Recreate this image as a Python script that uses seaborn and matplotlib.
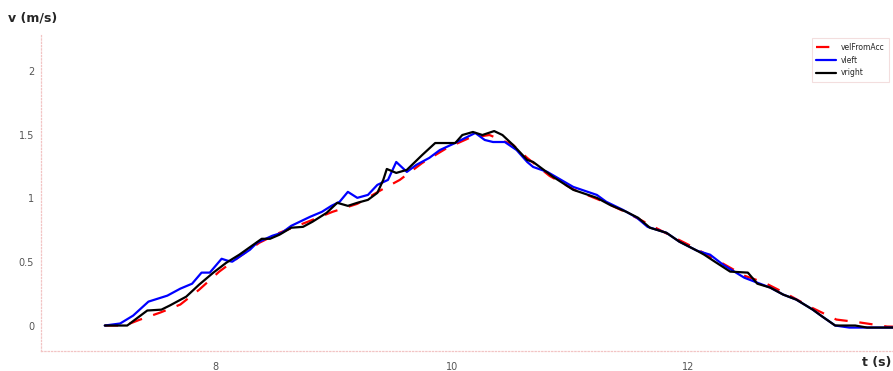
import numpy as np
import pandas as pd
import matplotlib
matplotlib.use("Agg")
import matplotlib.pyplot as plt
import seaborn as sns

# ---- data ----
t_acc = [7.06, 7.23, 7.36, 7.53, 7.70, 7.86, 8.03, 8.20, 8.37, 8.54, 8.78, 8.99, 9.20,
         9.42, 9.56, 9.75, 9.96, 10.15, 10.32, 10.52, 10.64, 10.83, 11.04, 11.25, 11.47,
         11.68, 11.89, 12.04, 12.27, 12.48, 12.65, 12.85, 13.05, 13.26, 13.46, 13.69, 13.80]
v_acc = [0.0, 0.0, 0.047, 0.102, 0.165, 0.282, 0.424, 0.541, 0.651, 0.729, 0.816, 0.894, 0.957,
         1.075, 1.145, 1.278, 1.396, 1.475, 1.498, 1.420, 1.318, 1.176, 1.067, 0.988, 0.894,
         0.792, 0.690, 0.620, 0.502, 0.392, 0.337, 0.243, 0.141, 0.047, 0.024, -0.008, -0.01]

t_left = [7.06, 7.19, 7.30, 7.43, 7.59, 7.70, 7.80, 7.88, 7.95, 8.05, 8.10, 8.14, 8.29,
          8.35, 8.48, 8.56, 8.64, 8.80, 8.90, 8.98, 9.05, 9.12, 9.20, 9.29, 9.37, 9.46,
          9.53, 9.62, 9.70, 9.81, 9.90, 10.01, 10.13, 10.20, 10.28, 10.35, 10.45, 10.55,
          10.64, 10.69, 10.81, 11.03, 11.23, 11.31, 11.45, 11.57, 11.66, 11.82, 11.93,
          12.08, 12.19, 12.30, 12.48, 12.59, 12.70, 12.81, 12.92, 13.06, 13.14, 13.25,
          13.37, 13.80]
v_left = [0.0, 0.016, 0.078, 0.188, 0.235, 0.290, 0.329, 0.416, 0.416, 0.525, 0.510, 0.502,
          0.596, 0.651, 0.706, 0.729, 0.784, 0.855, 0.894, 0.941, 0.973, 1.051, 1.004,
          1.027, 1.106, 1.145, 1.286, 1.208, 1.263, 1.318, 1.380, 1.427, 1.482, 1.514,
          1.459, 1.443, 1.443, 1.380, 1.286, 1.247, 1.208, 1.090, 1.027, 0.973, 0.910,
          0.847, 0.776, 0.729, 0.659, 0.588, 0.557, 0.478, 0.376, 0.337, 0.298, 0.243,
          0.204, 0.125, 0.071, 0.0, -0.016, -0.016]

t_right = [7.06, 7.25, 7.42, 7.54, 7.61, 7.75, 7.86, 7.98, 8.09, 8.20, 8.39, 8.46, 8.54,
           8.64, 8.74, 8.82, 8.94, 9.03, 9.12, 9.20, 9.29, 9.37, 9.42, 9.45, 9.53, 9.62,
           9.75, 9.86, 10.03, 10.09, 10.18, 10.26, 10.36, 10.43, 10.52, 10.64, 10.69,
           10.86, 11.03, 11.23, 11.34, 11.48, 11.58, 11.68, 11.82, 11.93, 12.08, 12.14,
           12.23, 12.36, 12.51, 12.59, 12.70, 12.81, 12.92, 13.06, 13.14, 13.25, 13.42,
           13.52, 13.80]
v_right = [0.0, 0.0, 0.118, 0.125, 0.157, 0.227, 0.322, 0.416, 0.494, 0.557, 0.682, 0.682,
           0.714, 0.769, 0.776, 0.816, 0.886, 0.965, 0.941, 0.965, 0.988, 1.043, 1.145,
           1.231, 1.200, 1.224, 1.341, 1.435, 1.435, 1.498, 1.522, 1.498, 1.529, 1.498,
           1.420, 1.302, 1.286, 1.169, 1.067, 1.004, 0.949, 0.894, 0.847, 0.769, 0.729,
           0.659, 0.588, 0.557, 0.502, 0.424, 0.416, 0.329, 0.298, 0.243, 0.204, 0.125,
           0.071, 0.0, 0.0, -0.016, -0.016]

series_names = ["velFromAcc", "vleft", "vright"]
y_ticks = [0, 0.5, 1, 1.5, 2]
y_tick_labels = ["0", "0.5", "1", "1.5", "2"]
x_ticks = [8, 10, 12]
x_tick_labels = ["8", "10", "12"]

df = pd.concat([
    pd.DataFrame({"t": t_acc, "v": v_acc, "series": series_names[0]}),
    pd.DataFrame({"t": t_left, "v": v_left, "series": series_names[1]}),
    pd.DataFrame({"t": t_right, "v": v_right, "series": series_names[2]}),
], ignore_index=True)

sns.set_style("white")
plt.rcParams["font.family"] = ["DejaVu Sans"]

fig = plt.figure(figsize=(8.93, 3.71), dpi=100)
ax = fig.add_axes([0.046, 0.054, 0.954, 0.857])

styles = {
    "velFromAcc": dict(color="#ff0000", linestyle=(0, (6, 5.3))),
    "vleft": dict(color="#0000ff", linestyle="-"),
    "vright": dict(color="#000000", linestyle="-"),
}
for name in series_names:
    sub = df[df["series"] == name]
    sns.lineplot(data=sub, x="t", y="v", ax=ax, sort=False, estimator=None,
                 label=name, linewidth=1.6, **styles[name])

ax.set_xlim(6.52, 13.74)
ax.set_ylim(-0.2, 2.3)
ax.set_xticks(x_ticks)
ax.set_xticklabels(x_tick_labels)
ax.set_yticks(y_ticks)
ax.set_yticklabels(y_tick_labels)
ax.tick_params(axis="both", direction="in", length=6, width=0.8, color="#333333",
               labelsize=7, labelcolor="#555555")
ax.tick_params(axis="y", pad=5)
ax.tick_params(axis="x", pad=8)
ax.set_xlabel("")
ax.set_ylabel("")

for s in ["top", "right"]:
    ax.spines[s].set_visible(False)
for s in ["left", "bottom"]:
    ax.spines[s].set_visible(True)
    ax.spines[s].set_color("#f2c4c4")
    ax.spines[s].set_linestyle(":")
    ax.spines[s].set_linewidth(0.9)

fig.text(0.009, 0.952, "v (m/s)", fontsize=9, fontweight="bold", ha="left", va="center")
fig.text(0.998, 0.022, "t (s)", fontsize=9, fontweight="bold", ha="right", va="center")

leg = ax.legend(loc="upper right", bbox_to_anchor=(0.9955, 0.984), borderaxespad=0,
                fontsize=5.5, frameon=True, fancybox=False, handlelength=2.6,
                handletextpad=0.6, borderpad=0.6, labelspacing=0.5)
leg.get_frame().set_edgecolor("#f0d6d6")
leg.get_frame().set_linewidth(0.8)

fig.savefig("out.png", dpi=100)
